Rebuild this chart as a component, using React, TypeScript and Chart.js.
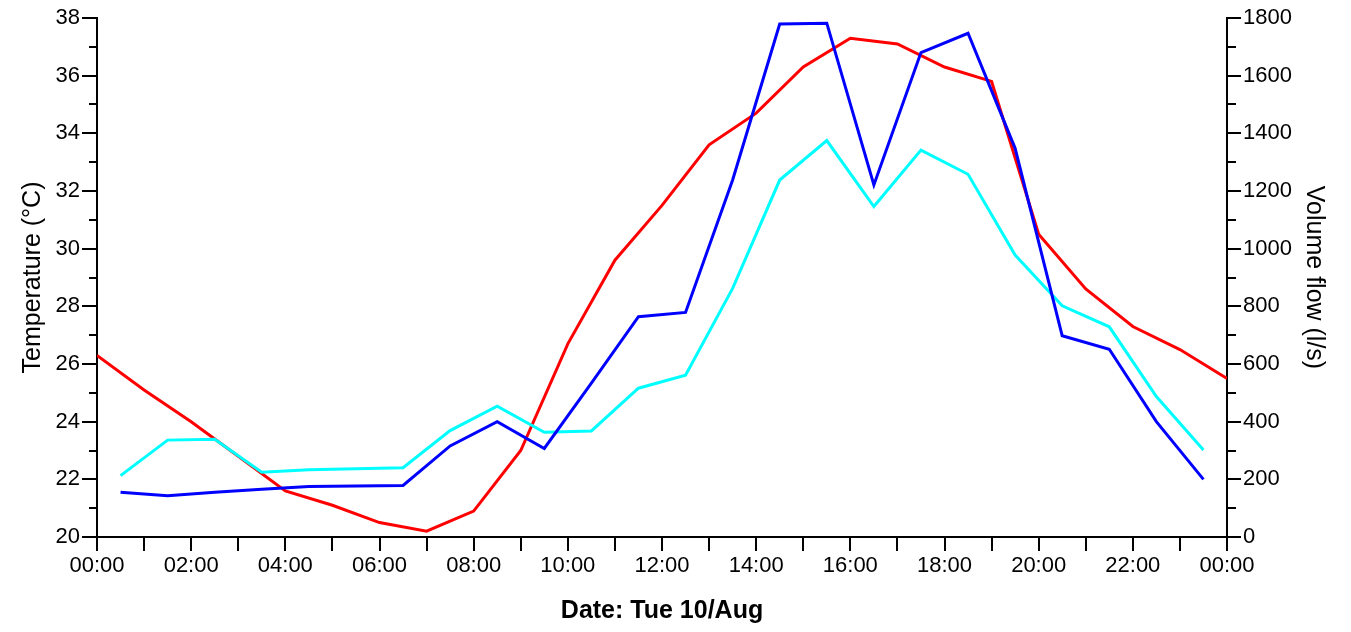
import React, { useEffect, useRef } from "react";
import { Chart, registerables } from "chart.js";

Chart.register(...registerables);

// Temperature (°C), hourly from 00:00 to 24:00
const tempHours = [0, 1, 2, 3, 4, 5, 6, 7, 8, 9, 10, 11, 12, 13, 14, 15, 16, 17, 18, 19, 20, 21, 22, 23, 24];
const tempValues = [26.3, 25.1, 24.0, 22.8, 21.6, 21.1, 20.5, 20.2, 20.9, 23.0, 26.7, 29.6, 31.5, 33.6, 34.7, 36.3, 37.3, 37.1, 36.3, 35.8, 30.5, 28.6, 27.3, 26.5, 25.5];

// Volume flow (l/s), at half hours
const flowHours = [0.5, 1.5, 2.5, 3.5, 4.5, 5.5, 6.5, 7.5, 8.5, 9.5, 10.5, 11.5, 12.5, 13.5, 14.5, 15.5, 16.5, 17.5, 18.5, 19.5, 20.5, 21.5, 22.5, 23.5];
const flowBlue = [155, 143, 155, 166, 175, 177, 179, 316, 400, 307, 534, 764, 779, 1238, 1779, 1782, 1221, 1680, 1747, 1348, 698, 651, 400, 200];
const flowCyan = [213, 336, 339, 225, 233, 237, 240, 369, 454, 363, 368, 516, 561, 862, 1238, 1375, 1146, 1342, 1258, 978, 802, 729, 487, 302];

const xTitle = "Date: Tue 10/Aug";
const yLeftTitle = "Temperature (°C)";
const yRightTitle = "Volume flow (l/s)";

const FONT = "'Liberation Sans', Arial, sans-serif";

const tickPlugin = {
  id: "customTicks",
  afterDraw(chart: any) {
    const ctx = chart.ctx;
    const { left, right, bottom } = chart.chartArea;
    ctx.save();
    ctx.strokeStyle = "#000";
    ctx.lineWidth = 2;
    const xs = chart.scales.x;
    xs.ticks.forEach((t: any) => {
      const px = Math.round(xs.getPixelForValue(t.value));
      ctx.beginPath();
      ctx.moveTo(px, bottom);
      ctx.lineTo(px, bottom + 14);
      ctx.stroke();
    });
    const yl = chart.scales.yTemp;
    yl.ticks.forEach((t: any) => {
      const py = Math.round(yl.getPixelForValue(t.value));
      const len = Math.round(t.value) % 2 === 0 ? 15 : 8;
      ctx.beginPath();
      ctx.moveTo(left, py);
      ctx.lineTo(left - len, py);
      ctx.stroke();
    });
    const yr = chart.scales.yFlow;
    yr.ticks.forEach((t: any) => {
      const py = Math.round(yr.getPixelForValue(t.value));
      const len = Math.round(t.value) % 200 === 0 ? 14 : 9;
      ctx.beginPath();
      ctx.moveTo(right, py);
      ctx.lineTo(right + len, py);
      ctx.stroke();
    });
    ctx.restore();
  },
};

export default function App() {
  const canvasRef = useRef<HTMLCanvasElement | null>(null);

  useEffect(() => {
    document.body.style.margin = "0";
    document.body.style.overflow = "hidden";
    const canvas = canvasRef.current;
    if (!canvas) return;
    const chart = new Chart(canvas, {
      type: "line",
      data: {
        datasets: [
          {
            label: "Flow 1",
            data: flowHours.map((h, i) => ({ x: h, y: flowBlue[i] })),
            borderColor: "#0000FF",
            borderWidth: 3,
            pointRadius: 0,
            tension: 0,
            yAxisID: "yFlow",
          },
          {
            label: "Flow 2",
            data: flowHours.map((h, i) => ({ x: h, y: flowCyan[i] })),
            borderColor: "#00FFFF",
            borderWidth: 3,
            pointRadius: 0,
            tension: 0,
            yAxisID: "yFlow",
          },
          {
            label: "Temperature",
            data: tempHours.map((h, i) => ({ x: h, y: tempValues[i] })),
            borderColor: "#FF0000",
            borderWidth: 3,
            pointRadius: 0,
            tension: 0,
            yAxisID: "yTemp",
          },
        ],
      },
      options: {
        animation: false,
        responsive: false,
        devicePixelRatio: 1,
        layout: { padding: { top: 18, left: 0, right: 0, bottom: 0 } },
        plugins: {
          legend: { display: false },
          tooltip: { enabled: false },
        },
        scales: {
          x: {
            type: "linear",
            min: 0,
            max: 24,
            afterFit: (s: any) => {
              s.height = 95;
            },
            ticks: {
              stepSize: 1,
              autoSkip: false,
              maxRotation: 0,
              padding: 2,
              color: "#000",
              font: { family: FONT, size: 22 },
              callback: (v: any) => {
                const n = Math.round(Number(v));
                if (n % 2 !== 0) return "";
                const h = n % 24;
                return (h < 10 ? "0" + h : "" + h) + ":00";
              },
            },
            grid: { display: false, drawTicks: true, tickLength: 14 },
            border: { display: true, color: "#000", width: 2 },
            title: {
              display: true,
              text: xTitle,
              color: "#000",
              font: { family: FONT, size: 25, weight: "bold" },
              padding: { top: 0, bottom: 6 },
            },
          },
          yTemp: {
            type: "linear",
            position: "left",
            min: 20,
            max: 38,
            afterFit: (s: any) => {
              s.width = 97;
            },
            ticks: {
              stepSize: 1,
              autoSkip: false,
              padding: 2,
              color: "#000",
              font: { family: FONT, size: 22 },
              callback: (v: any) => {
                const n = Math.round(Number(v));
                return n % 2 === 0 ? String(n) : "";
              },
            },
            grid: { display: false, drawTicks: true, tickLength: 15 },
            border: { display: true, color: "#000", width: 2 },
            title: {
              display: true,
              text: yLeftTitle,
              color: "#000",
              font: { family: FONT, size: 25 },
              padding: { top: 18, bottom: 0 },
            },
          },
          yFlow: {
            type: "linear",
            position: "right",
            min: 0,
            max: 1800,
            afterFit: (s: any) => {
              s.width = 124;
            },
            ticks: {
              stepSize: 100,
              autoSkip: false,
              padding: 2,
              color: "#000",
              font: { family: FONT, size: 22 },
              callback: (v: any) => {
                const n = Math.round(Number(v));
                return n % 200 === 0 ? String(n) : "";
              },
            },
            grid: { display: false, drawTicks: true, tickLength: 14 },
            border: { display: true, color: "#000", width: 2 },
            title: {
              display: true,
              text: yRightTitle,
              color: "#000",
              font: { family: FONT, size: 25 },
              padding: { top: 22, bottom: 0 },
            },
          },
        },
      },
      plugins: [tickPlugin],
    });
    return () => chart.destroy();
  }, []);

  return (
    <div style={{ width: 1351, height: 632, background: "#fff" }}>
      <canvas ref={canvasRef} width={1351} height={632} style={{ display: "block" }} />
    </div>
  );
}
